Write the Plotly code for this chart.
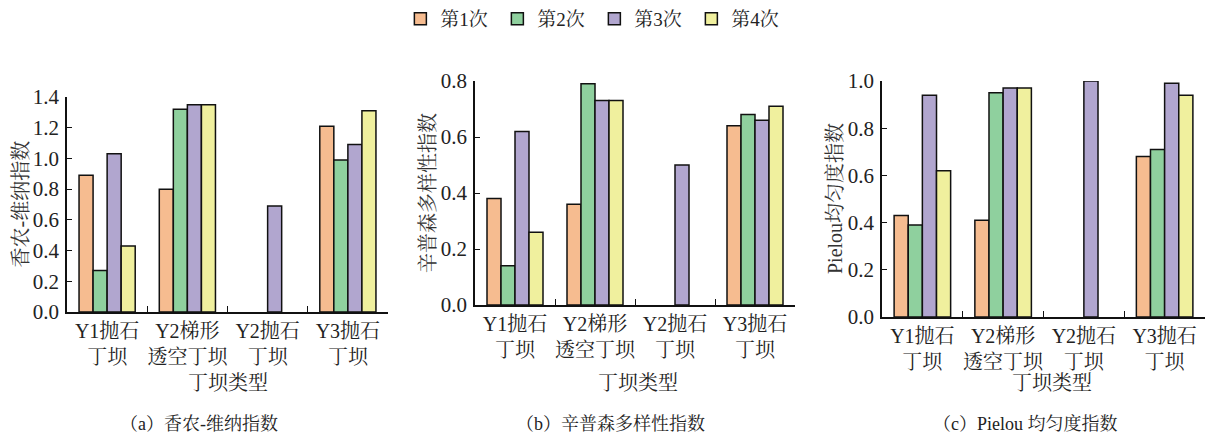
import plotly.graph_objects as go

# Groyne types (x categories) and sampling rounds (series)
categories = ["Y1抛石<br>丁坝", "Y2梯形<br>透空丁坝", "Y2抛石<br>丁坝", "Y3抛石<br>丁坝"]
rounds = ["第1次", "第2次", "第3次", "第4次"]
colors = ["#F6BC90", "#8FD09E", "#B1A6CF", "#F0F09E"]

# Shannon-Wiener index per round (None = no value)
shannon = [
    [0.89, 0.80, None, 1.21],
    [0.27, 1.32, None, 0.99],
    [1.03, 1.35, 0.69, 1.09],
    [0.43, 1.35, None, 1.31],
]
# Simpson diversity index per round
simpson = [
    [0.38, 0.36, None, 0.64],
    [0.14, 0.79, None, 0.68],
    [0.62, 0.73, 0.50, 0.66],
    [0.26, 0.73, None, 0.71],
]
# Pielou evenness index per round
pielou = [
    [0.43, 0.41, None, 0.68],
    [0.39, 0.95, None, 0.71],
    [0.94, 0.97, 1.00, 0.99],
    [0.62, 0.97, None, 0.94],
]

y_titles = ["香农-维纳指数", "辛普森多样性指数", "Pielou均匀度指数"]
captions = ["（a）香农-维纳指数", "（b）辛普森多样性指数", "（c）Pielou 均匀度指数"]
y_ranges = [[0, 1.4], [0, 0.8], [0, 1.0]]
y_dticks = [0.2, 0.2, 0.2]

W, H = 1213, 441
FONT = "Liberation Serif, Noto Serif CJK SC, Noto Sans CJK SC"
TXT = "#222222"

# panel boxes in pixels: (left, right, top, bottom)
boxes = [(67, 388, 97, 312), (475, 795, 81, 305), (882, 1205, 81, 317)]

fig = go.Figure()
datasets = [shannon, simpson, pielou]

for p, data in enumerate(datasets):
    xa = "x" if p == 0 else f"x{p+1}"
    ya = "y" if p == 0 else f"y{p+1}"
    for i, name in enumerate(rounds):
        fig.add_trace(go.Bar(
            x=categories, y=data[i], name=name,
            marker=dict(color=colors[i], line=dict(color="#111111", width=1.5)),
            xaxis=xa, yaxis=ya, showlegend=(p == 0), legendgroup=name,
            offsetgroup=str(i),
        ))

layout = dict(
    width=W, height=H,
    margin=dict(l=0, r=0, t=0, b=0, autoexpand=False),
    paper_bgcolor="white", plot_bgcolor="white",
    barmode="group", bargap=0.3, bargroupgap=0,
    font=dict(family=FONT, size=19, color=TXT),
    showlegend=True,
    legend=dict(
        orientation="h", x=0.49, xanchor="center", y=1.0, yanchor="top",
        font=dict(size=19, family=FONT, color=TXT),
        itemwidth=30, entrywidth=52, entrywidthmode="pixels",
        bgcolor="rgba(0,0,0,0)",
    ),
)

annotations = []
for p, (l, r, t, b) in enumerate(boxes):
    sx = "" if p == 0 else str(p + 1)
    layout["xaxis" + sx] = dict(
        domain=[l / W, r / W], anchor="y" + sx, automargin=False,
        type="category", tickson="boundaries", tickangle=0,
        ticks="inside", ticklen=6, tickwidth=1.4, tickcolor="#111111",
        showline=True, linecolor="#111111", linewidth=1.6,
        showgrid=False, zeroline=False,
        tickfont=dict(size=20, family=FONT, color=TXT),
        range=[-0.5, 3.5], fixedrange=True,
    )
    layout["yaxis" + sx] = dict(
        domain=[1 - b / H, 1 - t / H], anchor="x" + sx, automargin=False,
        range=y_ranges[p], dtick=y_dticks[p], tick0=0, tickformat=".1f",
        ticks="inside", ticklen=5, tickwidth=1.4, tickcolor="#111111",
        showline=True, linecolor="#111111", linewidth=1.6,
        showgrid=False, zeroline=False,
        tickfont=dict(size=21, family=FONT, color=TXT),
        ticklabelstandoff=2,
    )
    # y-axis title
    ytx = [20, 428, 835][p]
    annotations.append(dict(
        text=y_titles[p], textangle=-90, x=ytx / W, y=1 - (t + b) / 2 / H,
        xref="paper", yref="paper", xanchor="center", yanchor="middle",
        showarrow=False, font=dict(size=20, family=FONT, color="#333333"),
    ))
    # x-axis title
    xtx = [228, 638, 1052][p]
    annotations.append(dict(
        text="丁坝类型", x=xtx / W, y=1 - 383 / H,
        xref="paper", yref="paper", xanchor="center", yanchor="middle",
        showarrow=False, font=dict(size=20, family=FONT, color=TXT),
    ))
    # caption
    ctx = [199, 610, 1025][p]
    annotations.append(dict(
        text=captions[p], x=ctx / W, y=1 - 424 / H,
        xref="paper", yref="paper", xanchor="center", yanchor="middle",
        showarrow=False, font=dict(size=18, family=FONT, color=TXT),
    ))

layout["annotations"] = annotations
fig.update_layout(**layout)
fig.write_html("out.html")
